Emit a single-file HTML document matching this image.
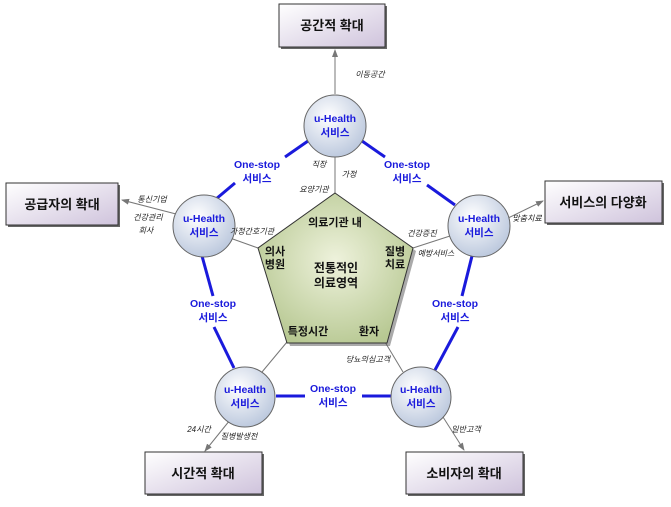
<!DOCTYPE html>
<html><head><meta charset="utf-8"><style>
body{margin:0;background:#fff;}
svg text{font-family:"Liberation Sans","Noto Sans CJK KR",sans-serif;}
</style></head><body>
<svg width="671" height="502" viewBox="0 0 671 502" xmlns="http://www.w3.org/2000/svg">
<defs>
<linearGradient id="bx" x1="0" y1="0" x2="1" y2="1"><stop offset="0" stop-color="#ffffff"/><stop offset="1" stop-color="#cfc3dc"/></linearGradient>
<radialGradient id="ci" cx="0.4" cy="0.35" r="0.7"><stop offset="0" stop-color="#ffffff"/><stop offset="1" stop-color="#b9c6dc"/></radialGradient>
<radialGradient id="pg" cx="0.5" cy="0.45" r="0.6"><stop offset="0" stop-color="#eef2dc"/><stop offset="1" stop-color="#b7c892"/></radialGradient>
<marker id="ar" markerWidth="8" markerHeight="8" refX="7" refY="4" orient="auto" markerUnits="userSpaceOnUse"><path d="M0,1 L8,4 L0,7 z" fill="#777"/></marker>
</defs>
<!-- gray spokes -->
<g stroke="#777" stroke-width="1" fill="none">
<line x1="335" y1="193" x2="335" y2="157"/>
<line x1="258" y1="248" x2="230" y2="238"/>
<line x1="413" y1="248" x2="450" y2="236"/>
<line x1="287" y1="342" x2="262" y2="372"/>
<line x1="385" y1="342" x2="403" y2="372"/>
<line x1="335" y1="94" x2="335" y2="50" marker-end="url(#ar)"/>
<line x1="176" y1="214" x2="122" y2="200" marker-end="url(#ar)"/>
<line x1="504" y1="220" x2="543" y2="201" marker-end="url(#ar)"/>
<line x1="230" y1="420" x2="205" y2="451" marker-end="url(#ar)"/>
<line x1="443" y1="417" x2="464" y2="450" marker-end="url(#ar)"/>
</g>
<!-- blue lines -->
<g stroke="#1a1adc" stroke-width="3" fill="none">
<line x1="308" y1="141" x2="285" y2="157"/>
<line x1="235" y1="183" x2="216" y2="199"/>
<line x1="362" y1="141" x2="385" y2="157"/>
<line x1="427" y1="185" x2="455" y2="205"/>
<line x1="202" y1="256" x2="213" y2="296"/>
<line x1="214" y1="327" x2="234" y2="368"/>
<line x1="472" y1="256" x2="462" y2="296"/>
<line x1="458" y1="327" x2="435" y2="370"/>
<line x1="276" y1="396" x2="305" y2="396"/>
<line x1="362" y1="396" x2="391" y2="396"/>
</g>
<!-- pentagon -->
<polygon points="338,196 416,251 390,346 290,346 261,251" fill="#555" opacity="0.5"/>
<polygon points="335,193 413,248 387,343 287,343 258,248" fill="url(#pg)" stroke="#333" stroke-width="1"/>
<!-- circles -->
<g stroke="#666" stroke-width="1" fill="url(#ci)">
<circle cx="335" cy="126" r="31"/>
<circle cx="204" cy="226" r="31"/>
<circle cx="479" cy="226" r="31"/>
<circle cx="245" cy="397" r="30"/>
<circle cx="421" cy="397" r="30"/>
</g>
<g fill="#1a1adc" font-size="10.5" font-weight="bold" text-anchor="middle">
<text x="335" y="122">u-Health</text><text x="335" y="136">서비스</text>
<text x="204" y="222">u-Health</text><text x="204" y="236">서비스</text>
<text x="479" y="222">u-Health</text><text x="479" y="236">서비스</text>
<text x="245" y="393">u-Health</text><text x="245" y="407">서비스</text>
<text x="421" y="393">u-Health</text><text x="421" y="407">서비스</text>
<text x="257" y="168">One-stop</text><text x="257" y="182">서비스</text>
<text x="407" y="168">One-stop</text><text x="407" y="182">서비스</text>
<text x="213" y="307">One-stop</text><text x="213" y="321">서비스</text>
<text x="455" y="307">One-stop</text><text x="455" y="321">서비스</text>
<text x="333" y="392">One-stop</text><text x="333" y="406">서비스</text>
</g>
<!-- boxes -->
<g stroke="#333" stroke-width="1" fill="url(#bx)">
<rect x="281" y="6" width="106" height="43" fill="#666" stroke="none"/><rect x="279" y="4" width="106" height="43"/>
<rect x="8" y="185" width="112" height="42" fill="#666" stroke="none"/><rect x="6" y="183" width="112" height="42"/>
<rect x="547" y="183" width="117" height="42" fill="#666" stroke="none"/><rect x="545" y="181" width="117" height="42"/>
<rect x="147" y="454" width="117" height="42" fill="#666" stroke="none"/><rect x="145" y="452" width="117" height="42"/>
<rect x="408" y="454" width="117" height="42" fill="#666" stroke="none"/><rect x="406" y="452" width="117" height="42"/>
</g>
<g fill="#111" font-size="13" font-weight="bold" text-anchor="middle">
<text x="332" y="30">공간적 확대</text>
<text x="62" y="209">공급자의 확대</text>
<text x="603" y="207">서비스의 다양화</text>
<text x="203" y="478">시간적 확대</text>
<text x="464" y="478">소비자의 확대</text>
</g>
<g fill="#111" font-size="11" font-weight="bold" text-anchor="middle">
<text x="335" y="226">의료기관 내</text>
<text x="275" y="255">의사</text><text x="275" y="268">병원</text>
<text x="395" y="255">질병</text><text x="395" y="268">치료</text>
<text x="336" y="272" font-size="12">전통적인</text><text x="336" y="287" font-size="12">의료영역</text>
<text x="308" y="335">특정시간</text>
<text x="369" y="335">환자</text>
</g>
<g fill="#222" font-size="8" font-style="italic" text-anchor="middle">
<text x="370" y="77">이동공간</text>
<text x="319" y="167">직장</text>
<text x="349" y="177">가정</text>
<text x="314" y="192">요양기관</text>
<text x="152" y="202">통신기업</text>
<text x="148" y="220">건강관리</text><text x="146" y="233">회사</text>
<text x="252" y="234">가정간호기관</text>
<text x="422" y="236">건강증진</text>
<text x="436" y="256">예방서비스</text>
<text x="527" y="221">맞춤치료</text>
<text x="368" y="362">당뇨의심고객</text>
<text x="199" y="432">24시간</text>
<text x="239" y="439">질병발생전</text>
<text x="466" y="432">일반고객</text>
</g>
</svg>
</body></html>
